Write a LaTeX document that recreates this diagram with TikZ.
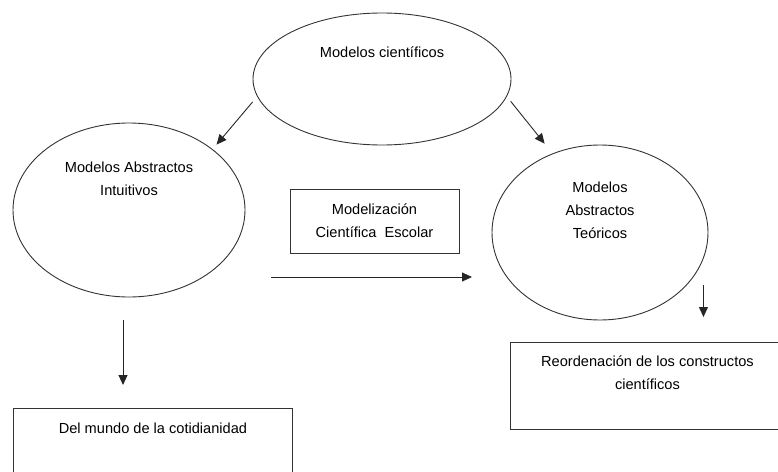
\documentclass[tikz,border=0pt]{standalone}
\usepackage{fontspec}
\setmainfont{Liberation Sans}
\usetikzlibrary{shapes.geometric,arrows.meta}
\tikzset{
    modelo/.style = {draw=black!80, line width=0.9pt, ellipse, inner sep=0pt, font=\fontsize{14.6}{23}\selectfont},
    caja/.style = {draw=black!80, line width=0.9pt, rectangle, inner sep=0pt, font=\fontsize{14.6}{23}\selectfont},
    flecha/.style = {draw=black!85, line width=0.9pt, -{Triangle[length=10pt,width=9pt]}},
}

\begin{document}
\begin{tikzpicture}[x=1pt,y=-1pt]
\useasboundingbox (0,0) rectangle (778,471);
% modelos
\node [modelo, minimum width=258pt, minimum height=132pt] (cient) at (382,79) {\parbox[c][64pt][t]{180pt}{\centering Modelos científicos}};
\node [modelo, minimum width=232pt, minimum height=174pt] (intuit) at (129,210) {\parbox[c][96pt][t]{160pt}{\centering Modelos Abstractos\\ Intuitivos}};
\node [modelo, minimum width=216pt, minimum height=175pt] (teor) at (600,232.5) {\parbox[c][101pt][t]{100pt}{\centering Modelos\\ Abstractos\\ Teóricos}};
% cajas
\node [caja, minimum width=169pt, minimum height=64pt, align=center] (escolar) at (374.5,221) {Modelización\\ Científica\ \ Escolar};
\node [caja, anchor=north west] (reord) at (510,342) {\parbox[c][87pt][t]{274pt}{\vspace*{13pt}\centering Reordenación de los constructos\\ científicos}};
\node [caja, anchor=north west] (cotid) at (13,408) {\parbox[c][72pt][t]{279pt}{\vspace*{14pt}\centering Del mundo de la cotidianidad}};
% flechas
\coordinate (ini) at (271,277);
\coordinate (fin) at (472,277);
\draw [flecha, shorten <=7pt, shorten >=6pt] (cient.188) -- (intuit.36);
\draw [flecha, shorten <=6pt, shorten >=12.6pt] (cient.352) -- (teor.121);
\draw [flecha] (ini) -- (fin);
\draw [flecha, shorten <=23pt, shorten >=23pt] ([xshift=-6pt]intuit.south) -- ([xshift=-6pt]intuit.south |- cotid.north);
\draw [flecha, shorten <=52.5pt, shorten >=25pt] ([xshift=-5pt]teor.east) -- ([xshift=-5pt]teor.east |- reord.north);
\end{tikzpicture}
\end{document}
